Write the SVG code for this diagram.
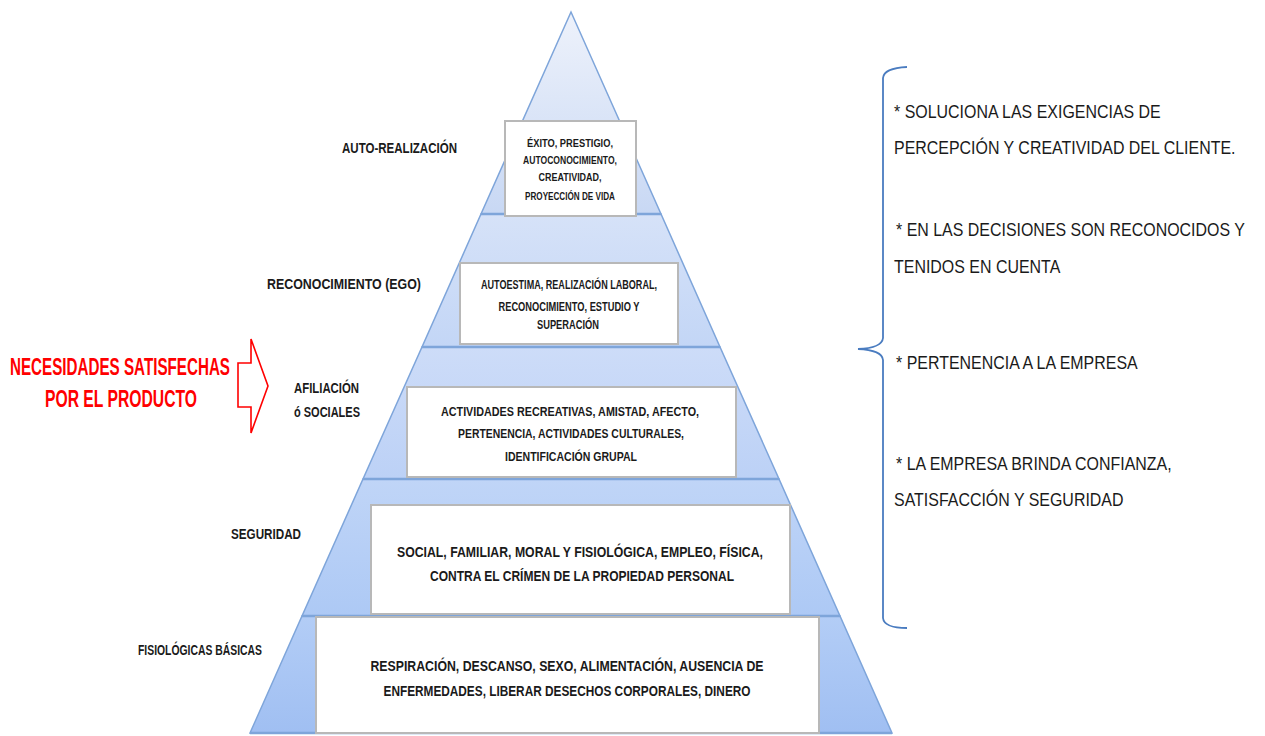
<svg xmlns="http://www.w3.org/2000/svg" width="1265" height="736" viewBox="0 0 1265 736">
  <style>
    .band { stroke: #7ea5da; stroke-width: 1.5; }
    .sep { stroke: #7ea5da; stroke-width: 2.5; }
    .box { fill: #ffffff; stroke: #b8b8b8; stroke-width: 2; }
    .bt { font-family: "Liberation Sans", Arial, sans-serif; font-weight: bold; fill: #1a1a1a; text-anchor: middle; }
    .lbl { font-family: "Liberation Sans", Arial, sans-serif; font-weight: bold; fill: #1a1a1a; font-size: 14.5px; }
    .red { font-family: "Liberation Sans", Arial, sans-serif; font-weight: bold; fill: #ff0000; font-size: 23px; }
    .rt { font-family: "Liberation Sans", Arial, sans-serif; fill: #1a1a1a; font-size: 19px; }
  </style>
  <defs>
    <linearGradient id="g1" x1="0" y1="0" x2="0" y2="1">
      <stop offset="0" stop-color="#eef2fb"/>
      <stop offset="1" stop-color="#c8d8f4"/>
    </linearGradient>
    <linearGradient id="g2" x1="0" y1="0" x2="0" y2="1">
      <stop offset="0" stop-color="#d6e2f8"/>
      <stop offset="1" stop-color="#c3d6f6"/>
    </linearGradient>
    <linearGradient id="g3" x1="0" y1="0" x2="0" y2="1">
      <stop offset="0" stop-color="#cddcf8"/>
      <stop offset="1" stop-color="#bcd1f6"/>
    </linearGradient>
    <linearGradient id="g4" x1="0" y1="0" x2="0" y2="1">
      <stop offset="0" stop-color="#c0d5f7"/>
      <stop offset="1" stop-color="#adc9f5"/>
    </linearGradient>
    <linearGradient id="g5" x1="0" y1="0" x2="0" y2="1">
      <stop offset="0" stop-color="#b3cdf6"/>
      <stop offset="1" stop-color="#a0bff2"/>
    </linearGradient>
  </defs>

  <!-- pyramid bands -->
  <g id="pyramid">
    <polygon class="band" fill="url(#g1)" points="571,12 481,214 661,214"/>
    <polygon class="band" fill="url(#g2)" points="481,214 661,214 720,347 422,347"/>
    <polygon class="band" fill="url(#g3)" points="422,347 720,347 779,479 363,479"/>
    <polygon class="band" fill="url(#g4)" points="363,479 779,479 840,616 302,616"/>
    <polygon class="band" fill="url(#g5)" points="302,616 840,616 892,733 250,733"/>
    <line class="sep" x1="481" y1="214" x2="661" y2="214"/>
    <line class="sep" x1="422" y1="347" x2="720" y2="347"/>
    <line class="sep" x1="363" y1="479" x2="779" y2="479"/>
    <line class="sep" x1="302" y1="616" x2="840" y2="616"/>
    <line class="sep" x1="250" y1="733" x2="892" y2="733"/>
  </g>

  <!-- level 5: self-actualisation -->
  <g id="level-autorealizacion">
    <rect class="box" x="505" y="121" width="131" height="95"/>
    <text class="bt" font-size="10.5" x="570" y="147" textLength="86" lengthAdjust="spacingAndGlyphs">ÉXITO, PRESTIGIO,</text>
    <text class="bt" font-size="10.5" x="570" y="164" textLength="94" lengthAdjust="spacingAndGlyphs">AUTOCONOCIMIENTO,</text>
    <text class="bt" font-size="10.5" x="570" y="181" textLength="63" lengthAdjust="spacingAndGlyphs">CREATIVIDAD,</text>
    <text class="bt" font-size="10.5" x="570" y="200" textLength="90" lengthAdjust="spacingAndGlyphs">PROYECCIÓN DE VIDA</text>
    <text class="lbl" x="342" y="153" textLength="115" lengthAdjust="spacingAndGlyphs">AUTO-REALIZACIÓN</text>
  </g>

  <!-- level 4: esteem -->
  <g id="level-reconocimiento">
    <rect class="box" x="460" y="263" width="218" height="81"/>
    <text class="bt" font-size="12" x="569" y="289" textLength="176" lengthAdjust="spacingAndGlyphs">AUTOESTIMA, REALIZACIÓN LABORAL,</text>
    <text class="bt" font-size="12" x="569" y="311" textLength="141" lengthAdjust="spacingAndGlyphs">RECONOCIMIENTO, ESTUDIO Y</text>
    <text class="bt" font-size="12" x="568" y="329" textLength="62" lengthAdjust="spacingAndGlyphs">SUPERACIÓN</text>
    <text class="lbl" x="267" y="289" textLength="154" lengthAdjust="spacingAndGlyphs">RECONOCIMIENTO   (EGO)</text>
  </g>

  <!-- level 3: belonging -->
  <g id="level-afiliacion">
    <rect class="box" x="407" y="387" width="329" height="90"/>
    <text class="bt" font-size="13.5" x="570" y="416" textLength="258" lengthAdjust="spacingAndGlyphs">ACTIVIDADES RECREATIVAS, AMISTAD, AFECTO,</text>
    <text class="bt" font-size="13.5" x="571" y="438" textLength="226" lengthAdjust="spacingAndGlyphs">PERTENENCIA, ACTIVIDADES CULTURALES,</text>
    <text class="bt" font-size="13.5" x="571" y="461" textLength="132" lengthAdjust="spacingAndGlyphs">IDENTIFICACIÓN  GRUPAL</text>
    <text class="lbl" x="294" y="393" textLength="65" lengthAdjust="spacingAndGlyphs">AFILIACIÓN</text>
    <text class="lbl" x="294" y="417" textLength="66" lengthAdjust="spacingAndGlyphs">ó SOCIALES</text>
  </g>

  <!-- level 2: safety -->
  <g id="level-seguridad">
    <rect class="box" x="371" y="505" width="419" height="109"/>
    <text class="bt" font-size="15.5" x="580" y="557" textLength="366" lengthAdjust="spacingAndGlyphs">SOCIAL, FAMILIAR,  MORAL Y FISIOLÓGICA,  EMPLEO, FÍSICA,</text>
    <text class="bt" font-size="15.5" x="582" y="581" textLength="304" lengthAdjust="spacingAndGlyphs">CONTRA  EL CRÍMEN DE LA PROPIEDAD  PERSONAL</text>
    <text class="lbl" x="231" y="539" textLength="70" lengthAdjust="spacingAndGlyphs">SEGURIDAD</text>
  </g>

  <!-- level 1: physiological -->
  <g id="level-fisiologicas">
    <rect class="box" x="316" y="617" width="503" height="116"/>
    <text class="bt" font-size="15.5" x="567" y="671" textLength="393" lengthAdjust="spacingAndGlyphs">RESPIRACIÓN,  DESCANSO, SEXO, ALIMENTACIÓN,  AUSENCIA DE</text>
    <text class="bt" font-size="15.5" x="567" y="696" textLength="367" lengthAdjust="spacingAndGlyphs">ENFERMEDADES,  LIBERAR  DESECHOS CORPORALES,  DINERO</text>
    <text class="lbl" x="138" y="655" textLength="124" lengthAdjust="spacingAndGlyphs">FISIOLÓGICAS  BÁSICAS</text>
  </g>

  <!-- callout: needs met by the product -->
  <g id="callout">
    <text class="red" x="10" y="375" textLength="220" lengthAdjust="spacingAndGlyphs">NECESIDADES SATISFECHAS</text>
    <text class="red" x="45" y="407" textLength="152" lengthAdjust="spacingAndGlyphs">POR EL PRODUCTO</text>
  </g>

  <!-- connectors -->
  <g id="connectors" fill="none">
    <polygon points="238,363 251,363 251,339 268,386 251,433 251,407 238,407" stroke="#ff0000" stroke-width="1.6" fill="none" stroke-linejoin="miter"/>
    <path d="M907,67 Q884,68 883,78 L883,338 Q882,348 858,349 Q882,350 883,360 L883,618 Q884,628 907,628" stroke="#4a7cc0" stroke-width="1.8"/>
  </g>

  <!-- outcomes list (narrowed horizontally) -->
  <g id="outcomes">
    <text class="rt" transform="translate(894,118) scale(0.84,1)">* SOLUCIONA LAS EXIGENCIAS DE</text>
    <text class="rt" transform="translate(894,154) scale(0.84,1)">PERCEPCIÓN Y CREATIVIDAD DEL CLIENTE.</text>
    <text class="rt" transform="translate(896,236) scale(0.84,1)">* EN LAS DECISIONES SON RECONOCIDOS Y</text>
    <text class="rt" transform="translate(894,273) scale(0.84,1)">TENIDOS EN CUENTA</text>
    <text class="rt" transform="translate(896,369) scale(0.84,1)">* PERTENENCIA A LA EMPRESA</text>
    <text class="rt" transform="translate(896,470) scale(0.84,1)">* LA EMPRESA BRINDA CONFIANZA,</text>
    <text class="rt" transform="translate(894,506) scale(0.84,1)">SATISFACCIÓN Y SEGURIDAD</text>
  </g>
</svg>
